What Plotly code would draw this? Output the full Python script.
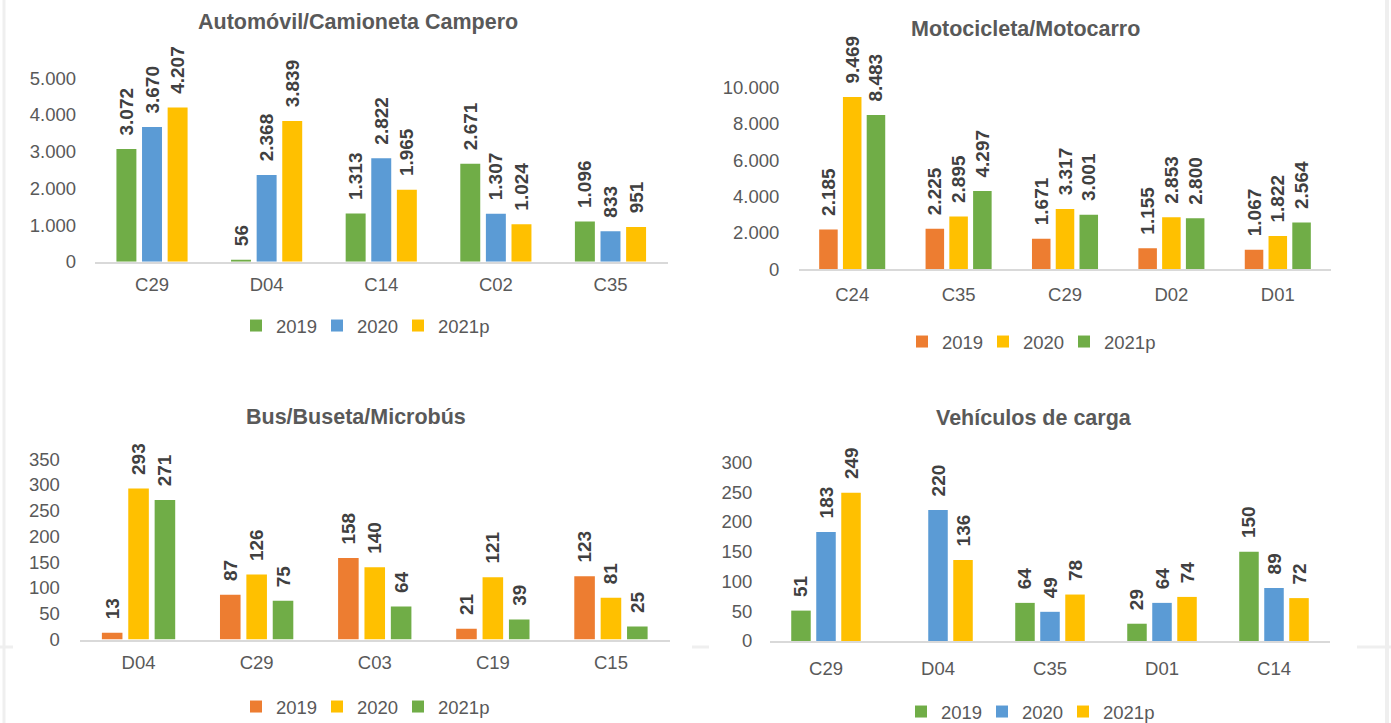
import plotly.graph_objects as go

# ---------------- data ----------------
years = ["2019", "2020", "2021p"]

auto_cats = ["C29", "D04", "C14", "C02", "C35"]
auto_2019 = [3072, 56, 1313, 2671, 1096]
auto_2020 = [3670, 2368, 2822, 1307, 833]
auto_2021 = [4207, 3839, 1965, 1024, 951]
auto_ticks = [0, 1000, 2000, 3000, 4000, 5000]

moto_cats = ["C24", "C35", "C29", "D02", "D01"]
moto_2019 = [2185, 2225, 1671, 1155, 1067]
moto_2020 = [9469, 2895, 3317, 2853, 1822]
moto_2021 = [8483, 4297, 3001, 2800, 2564]
moto_ticks = [0, 2000, 4000, 6000, 8000, 10000]

bus_cats = ["D04", "C29", "C03", "C19", "C15"]
bus_2019 = [13, 87, 158, 21, 123]
bus_2020 = [293, 126, 140, 121, 81]
bus_2021 = [271, 75, 64, 39, 25]
bus_ticks = [0, 50, 100, 150, 200, 250, 300, 350]

carga_cats = ["C29", "D04", "C35", "D01", "C14"]
carga_2019 = [51, None, 64, 29, 150]
carga_2020 = [183, 220, 49, 64, 89]
carga_2021 = [249, 136, 78, 74, 72]
carga_ticks = [0, 50, 100, 150, 200, 250, 300]

titles = ["Automóvil/Camioneta Campero", "Motocicleta/Motocarro",
          "Bus/Buseta/Microbús", "Vehículos de carga"]

# ---------------- style ----------------
GREEN = "#70AD47"
BLUE = "#5B9BD5"
YELLOW = "#FFC000"
ORANGE = "#ED7D31"
FONT = "Liberation Sans, Arial, sans-serif"
TXT = "#595959"
LBL = "#404040"

W, H = 1391, 723

def px_x(v):
    return v / W

def px_y(v):
    return (H - v) / H

panels = [
    dict(cats=auto_cats, vals=[auto_2019, auto_2020, auto_2021], cols=[GREEN, BLUE, YELLOW],
         ticks=auto_ticks, x0=94.7, x1=667.8, y0=261.8, ppu=0.0367, top=6000,
         title=(358, 22), legend=(253, 326), xlen=5, ylen=14),
    dict(cats=moto_cats, vals=[moto_2019, moto_2020, moto_2021], cols=[ORANGE, YELLOW, GREEN],
         ticks=moto_ticks, x0=799, x1=1331, y0=269.2, ppu=0.018175, top=12000,
         title=(1025.5, 29), legend=(919, 342), xlen=8, ylen=15),
    dict(cats=bus_cats, vals=[bus_2019, bus_2020, bus_2021], cols=[ORANGE, YELLOW, GREEN],
         ticks=bus_ticks, x0=79.5, x1=670, y0=639.5, ppu=0.5152, top=400,
         title=(356, 417), legend=(253, 707), xlen=6, ylen=15),
    dict(cats=carga_cats, vals=[carga_2019, carga_2020, carga_2021], cols=[GREEN, BLUE, YELLOW],
         ticks=carga_ticks, x0=770, x1=1330, y0=641, ppu=0.5957, top=350,
         title=(1034, 418), legend=(918, 712), xlen=10, ylen=13),
]
entry_widths = [36, 36, 52]

fig = go.Figure()
layout = dict(
    width=W, height=H,
    margin=dict(l=0, r=0, t=0, b=0, autoexpand=False),
    paper_bgcolor="white", plot_bgcolor="white",
    barmode="group", bargap=0.33, bargroupgap=0.22,
    separators=",.",
    font=dict(family=FONT, size=18, color=TXT),
    showlegend=True,
    annotations=[], shapes=[],
)

for i, p in enumerate(panels):
    n = "" if i == 0 else str(i + 1)
    xa, ya = "x" + n, "y" + n
    lg = "legend" + n
    for yr, vals, col, ew in zip(years, p["vals"], p["cols"], entry_widths):
        fig.add_trace(go.Bar(
            x=p["cats"], y=vals, name=yr, xaxis=xa, yaxis=ya, legend=lg,
            legendwidth=ew,
            marker=dict(color=col, line=dict(width=0)),
            texttemplate="\u00a0\u00a0%{y:,}", textposition="outside", textangle=-90,
            textfont=dict(family=FONT, size=19, color=LBL, weight="bold"),
            constraintext="none", cliponaxis=False, hoverinfo="skip",
        ))
    top_px = p["y0"] - p["top"] * p["ppu"]
    layout["xaxis" + n] = dict(
        domain=[px_x(p["x0"]), px_x(p["x1"])], anchor=ya,
        type="category", showline=True, linecolor="#D9D9D9", linewidth=1.5,
        showgrid=False, zeroline=False, ticks="outside", ticklen=p["xlen"],
        tickcolor="rgba(0,0,0,0)", tickfont=dict(size=18.5, color=TXT, family=FONT),
        fixedrange=True,
    )
    layout["yaxis" + n] = dict(
        domain=[px_y(p["y0"]), px_y(top_px)], anchor=xa,
        range=[0, p["top"]], tickvals=p["ticks"], tickformat=",",
        showline=False, showgrid=False, zeroline=False, ticks="outside",
        ticklen=p["ylen"], tickcolor="rgba(0,0,0,0)",
        tickfont=dict(size=18.5, color=TXT, family=FONT), fixedrange=True,
    )
    layout[lg] = dict(
        orientation="h", x=px_x(p["legend"][0] - 17), xanchor="left",
        y=px_y(p["legend"][1]), yanchor="middle",
        font=dict(size=18.5, color=TXT, family=FONT), bgcolor="rgba(0,0,0,0)",
        itemclick=False, itemdoubleclick=False,
    )
    layout["annotations"].append(dict(
        text="<b>" + titles[i] + "</b>",
        x=px_x(p["title"][0]), y=px_y(p["title"][1]), xref="paper", yref="paper",
        xanchor="center", yanchor="middle", showarrow=False,
        font=dict(size=21.5, color=TXT, family=FONT),
    ))

# faint background separators of the pasted chart images
SEP = "#EFEFEF"
layout["shapes"] += [
    dict(type="line", xref="paper", yref="paper", x0=px_x(4), x1=px_x(4), y0=0, y1=1,
         line=dict(color=SEP, width=3), layer="below"),
    dict(type="line", xref="paper", yref="paper", x0=px_x(1387), x1=px_x(1387), y0=0, y1=1,
         line=dict(color=SEP, width=4), layer="below"),
    dict(type="line", xref="paper", yref="paper", x0=0, x1=px_x(13), y0=px_y(647), y1=px_y(647),
         line=dict(color=SEP, width=3), layer="below"),
    dict(type="line", xref="paper", yref="paper", x0=px_x(692), x1=px_x(709), y0=px_y(647), y1=px_y(647),
         line=dict(color=SEP, width=3), layer="below"),
    dict(type="line", xref="paper", yref="paper", x0=px_x(1357), x1=1, y0=px_y(647), y1=px_y(647),
         line=dict(color=SEP, width=3), layer="below"),
]

fig.update_layout(**layout)
fig.write_html("out.html", config={"displayModeBar": False},
               post_script="document.body.style.margin='0';")
